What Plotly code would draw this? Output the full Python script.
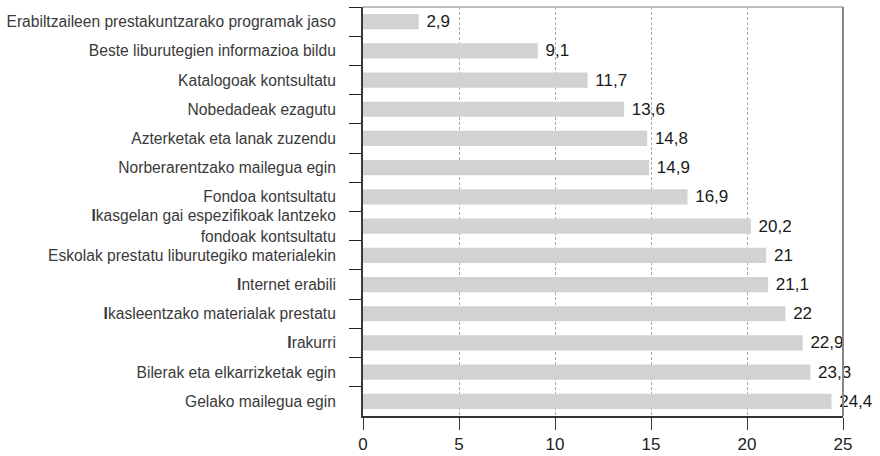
import plotly.graph_objects as go

categories = [
    "Erabiltzaileen prestakuntzarako programak jaso",
    "Beste liburutegien informazioa bildu",
    "Katalogoak kontsultatu",
    "Nobedadeak ezagutu",
    "Azterketak eta lanak zuzendu",
    "Norberarentzako mailegua egin",
    "Fondoa kontsultatu",
    "<b>I</b>kasgelan gai espezifikoak lantzeko<br>fondoak kontsultatu",
    "Eskolak prestatu liburutegiko materialekin",
    "<b>I</b>nternet erabili",
    "<b>I</b>kasleentzako materialak prestatu",
    "<b>I</b>rakurri",
    "Bilerak eta elkarrizketak egin",
    "Gelako mailegua egin",
]
values = [2.9, 9.1, 11.7, 13.6, 14.8, 14.9, 16.9, 20.2, 21, 21.1, 22, 22.9, 23.3, 24.4]
x_ticks = [0, 5, 10, 15, 20, 25]


def fmt(v):
    s = ("%g" % v)
    return s.replace(".", ",")


labels = ["\u00a0" + fmt(v) for v in values]

fig = go.Figure(
    go.Bar(
        y=categories,
        x=values,
        orientation="h",
        marker=dict(color="#d2d2d2", line=dict(width=0)),
        width=0.52,
        text=labels,
        textposition="outside",
        constraintext="none",
        textfont=dict(family="Liberation Sans, Arial, sans-serif", size=17, color="#1a1a1a"),
        cliponaxis=False,
        hoverinfo="skip",
    )
)

fig.update_layout(
    width=880,
    height=456,
    margin=dict(l=363, r=37, t=7, b=40),
    paper_bgcolor="white",
    plot_bgcolor="white",
    showlegend=False,
    font=dict(family="Liberation Sans, Arial, sans-serif", size=15, color="#3a3a3a"),
    shapes=[
        dict(type="line", xref="paper", yref="paper", x0=0, x1=1, y0=1, y1=1,
             line=dict(color="#a8a8a8", width=1.5)),
        dict(type="line", xref="paper", yref="paper", x0=1, x1=1, y0=0, y1=1,
             line=dict(color="#888888", width=2)),
    ],
)

fig.update_xaxes(
    range=[0, 25],
    tickvals=x_ticks,
    ticktext=[str(t) for t in x_ticks],
    showgrid=True,
    gridcolor="#a8a8a8",
    griddash="3px,2px",
    gridwidth=1,
    zeroline=False,
    showline=True,
    linecolor="#333333",
    linewidth=1.5,
    ticks="outside",
    ticklen=12,
    tickcolor="#333333",
    tickwidth=1.3,
    tickfont=dict(size=17, color="#222222"),
    automargin=False,
    fixedrange=True,
)

fig.update_yaxes(
    categoryorder="array",
    categoryarray=categories,
    autorange="reversed",
    showgrid=False,
    zeroline=False,
    showline=True,
    linecolor="#3a3a3a",
    linewidth=2,
    ticks="outside",
    tickson="boundaries",
    ticklen=12,
    tickcolor="#222222",
    tickwidth=1.3,
    ticklabelstandoff=22,
    tickfont=dict(size=15.6, color="#3a3a3a"),
    automargin=False,
    fixedrange=True,
)

fig.write_html(
    "out.html",
    config={"displayModeBar": False},
    post_script="document.body.style.margin='0';",
)
